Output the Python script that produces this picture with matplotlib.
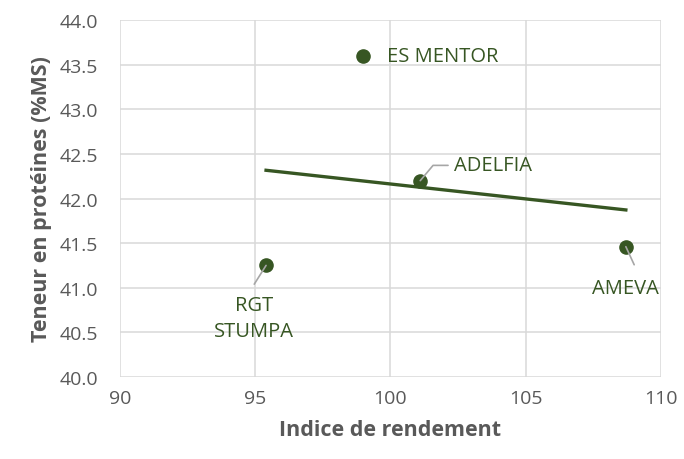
import numpy as np
import matplotlib.pyplot as plt

# varietes: indice de rendement vs teneur en proteines
varietes = ["ES MENTOR", "ADELFIA", "RGT\nSTUMPA", "AMEVA"]
rendement = [99.0, 101.1, 95.4, 108.7]
proteines = [43.6, 42.2, 41.25, 41.46]

green = '#375623'
grey_txt = '#595959'
leader = '#a6a6a6'

plt.rcParams['font.family'] = ['Open Sans', 'DejaVu Sans']

fig = plt.figure(figsize=(6.84, 4.60), dpi=100)
ax = fig.add_axes([0.1754, 0.1783, 0.791, 0.776])

ax.scatter(rendement, proteines, s=90, color=green, zorder=3)

# courbe de tendance lineaire
coef = np.polyfit(rendement, proteines, 1)
xs = np.array([min(rendement), max(rendement)])
ax.plot(xs, np.polyval(coef, xs), color=green, lw=2.4, zorder=2)

lbl_style = dict(color=green, fontsize=14.5)

# ES MENTOR : a droite du point
ax.annotate(varietes[0], (rendement[0], proteines[0]), xytext=(17, 0),
            textcoords='offset points', ha='left', va='center', **lbl_style)

# ADELFIA : ligne de rappel coudee
ax.annotate(varietes[1], (rendement[1], proteines[1]), xytext=(24, 11),
            textcoords='offset points', ha='left', va='center',
            arrowprops=dict(arrowstyle='-', color=leader, lw=1.2,
                            connectionstyle='angle,angleA=0,angleB=50,rad=0',
                            shrinkA=2, shrinkB=0), **lbl_style)

# RGT STUMPA : texte sous le point, ligne a part
ax.annotate('', (rendement[2], proteines[2]), xytext=(-8.5, -13.5),
            textcoords='offset points',
            arrowprops=dict(arrowstyle='-', color=leader, lw=1.2,
                            shrinkA=0, shrinkB=0), zorder=4)
ax.annotate(varietes[2], (rendement[2], proteines[2]), xytext=(-8.5, -38),
            textcoords='offset points', ha='center', va='center',
            linespacing=1.4, **lbl_style)

# AMEVA
ax.annotate('', (rendement[3], proteines[3]), xytext=(6, -13),
            textcoords='offset points',
            arrowprops=dict(arrowstyle='-', color=leader, lw=1.2,
                            shrinkA=0, shrinkB=0), zorder=4)
ax.annotate(varietes[3], (rendement[3], proteines[3]), xytext=(0, -29.5),
            textcoords='offset points', ha='center', va='center', **lbl_style)

ax.set_xlim(90, 110)
ax.set_ylim(40, 44)
ax.set_xticks(np.arange(90, 111, 5))
yt = np.arange(40, 44.01, 0.5)
ax.set_yticks(yt)
ax.set_yticklabels([f"{v:.1f}" for v in yt])

ax.grid(True, color='#d9d9d9', lw=1.1)
ax.set_axisbelow(True)
for s in ax.spines.values():
    s.set_visible(False)
ax.tick_params(length=0, labelsize=14, labelcolor=grey_txt)
ax.tick_params(axis='y', pad=16)
ax.tick_params(axis='x', pad=9)

ax.set_xlabel("Indice de rendement", fontsize=15.5, fontweight='bold',
              color=grey_txt, labelpad=8)
ax.set_ylabel("Teneur en protéines (%MS)", fontsize=15.5, fontweight='bold',
              color=grey_txt, labelpad=5)

fig.savefig("out.png", dpi=100)
